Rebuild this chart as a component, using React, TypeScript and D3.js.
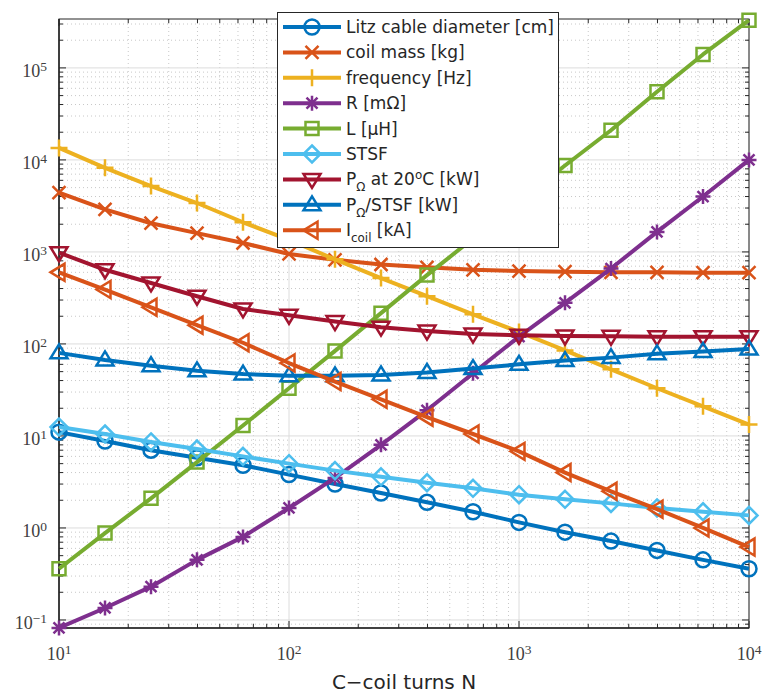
import { useEffect, useRef } from 'react'
import * as d3 from 'd3'

// C-coil turns N (x axis, log spaced)
const TURNS = [10, 15.85, 25.12, 39.81, 63.1, 100, 158.5, 251.2, 398.1, 631, 1000, 1585, 2512, 3981, 6310, 10000]

const LITZ_DIAM = [11, 8.8, 7.0, 5.8, 4.8, 3.8, 3.0, 2.4, 1.9, 1.5, 1.15, 0.9, 0.72, 0.57, 0.45, 0.36]
const COIL_MASS = [4400, 2900, 2050, 1600, 1250, 950, 820, 730, 680, 640, 620, 610, 600, 600, 595, 595]
const FREQUENCY = [13500, 8200, 5200, 3400, 2100, 1350, 830, 520, 330, 210, 135, 85, 53, 33, 21, 13.3]
const RESIST = [0.082, 0.135, 0.23, 0.45, 0.8, 1.65, 3.5, 8, 19, 48, 120, 280, 660, 1650, 4000, 10000]
const INDUCT = [0.36, 0.88, 2.1, 5.2, 13, 33, 84, 216, 560, 1400, 3500, 8700, 21000, 55000, 140000, 330000]
const STSF = [12.5, 10.5, 8.6, 7.2, 6.0, 5.0, 4.2, 3.6, 3.1, 2.7, 2.3, 2.05, 1.85, 1.65, 1.5, 1.37]
const P_20C = [980, 640, 460, 330, 240, 205, 175, 152, 138, 128, 124, 122, 121, 120, 120, 120]
const P_STSF = [80, 67, 58, 51, 47, 45, 45, 46, 49, 54, 60, 66, 71, 78, 83, 88]
const I_COIL = [600, 390, 250, 160, 103, 62, 39, 25, 16, 10.5, 6.8, 4.0, 2.5, 1.6, 1.0, 0.62]

const X_TICKS = [10, 100, 1000, 10000]
const Y_TICKS = [0.1, 1, 10, 100, 1000, 10000, 100000]

type Seg = { t: string; s?: 'sub' | 'sup' }

const SERIES: { values: number[]; color: string; marker: string; label: Seg[] }[] = [
  { values: LITZ_DIAM, color: '#0072BD', marker: 'o', label: [{ t: 'Litz cable diameter [cm]' }] },
  { values: COIL_MASS, color: '#D95319', marker: 'x', label: [{ t: 'coil mass [kg]' }] },
  { values: FREQUENCY, color: '#EDB120', marker: '+', label: [{ t: 'frequency [Hz]' }] },
  { values: RESIST, color: '#7E2F8E', marker: '*', label: [{ t: 'R [mΩ]' }] },
  { values: INDUCT, color: '#77AC30', marker: 's', label: [{ t: 'L [μH]' }] },
  { values: STSF, color: '#4DBEEE', marker: 'd', label: [{ t: 'STSF' }] },
  { values: P_20C, color: '#A2142F', marker: 'v', label: [{ t: 'P' }, { t: 'Ω', s: 'sub' }, { t: ' at 20' }, { t: 'o', s: 'sup' }, { t: 'C [kW]' }] },
  { values: P_STSF, color: '#0072BD', marker: '^', label: [{ t: 'P' }, { t: 'Ω', s: 'sub' }, { t: '/STSF [kW]' }] },
  { values: I_COIL, color: '#D95319', marker: '<', label: [{ t: 'I' }, { t: 'coil', s: 'sub' }, { t: ' [kA]' }] },
]

function markerPath(m: string) {
  const p = d3.path()
  switch (m) {
    case 'o':
      p.moveTo(7.5, 0); p.arc(0, 0, 7.5, 0, Math.PI * 2); break
    case 'x':
      p.moveTo(-6.5, -6.5); p.lineTo(6.5, 6.5); p.moveTo(-6.5, 6.5); p.lineTo(6.5, -6.5); break
    case '+':
      p.moveTo(-8.5, 0); p.lineTo(8.5, 0); p.moveTo(0, -8.5); p.lineTo(0, 8.5); break
    case '*':
      p.moveTo(-7.5, 0); p.lineTo(7.5, 0); p.moveTo(0, -7.5); p.lineTo(0, 7.5)
      p.moveTo(-5.5, -5.5); p.lineTo(5.5, 5.5); p.moveTo(-5.5, 5.5); p.lineTo(5.5, -5.5); break
    case 's':
      p.rect(-6.5, -6.5, 13, 13); break
    case 'd':
      p.moveTo(0, -8.5); p.lineTo(8.5, 0); p.lineTo(0, 8.5); p.lineTo(-8.5, 0); p.closePath(); break
    case 'v':
      p.moveTo(-8.5, -5.5); p.lineTo(8.5, -5.5); p.lineTo(0, 8.5); p.closePath(); break
    case '^':
      p.moveTo(-8.5, 5.5); p.lineTo(8.5, 5.5); p.lineTo(0, -8.5); p.closePath(); break
    case '<':
      p.moveTo(5.5, -8.5); p.lineTo(5.5, 8.5); p.lineTo(-8.5, 0); p.closePath(); break
  }
  return p.toString()
}

function addRich(sel: any, segs: Seg[], fs: number, supShift = 0.4, small = 0.7) {
  let shift = 0
  segs.forEach(seg => {
    const target = seg.s === 'sub' ? fs * 0.35 : seg.s === 'sup' ? -fs * supShift : 0
    const span = sel.append('tspan').attr('dy', target - shift).text(seg.t)
    if (seg.s) span.attr('font-size', fs * small)
    shift = target
  })
}

export default function App() {
  const svgRef = useRef<SVGSVGElement>(null)

  useEffect(() => {
    if (!svgRef.current) return
    const svg = d3.select(svgRef.current)
    svg.selectAll('*').remove()

    const L = 59, R = 749, T = 19, B = 628
    const x = d3.scaleLog().domain([10, 1e4]).range([L, R])
    const y = d3.scaleLog().domain([0.0818, 3.4e5]).range([B, T])

    const minorX: number[] = []
    X_TICKS.slice(0, -1).forEach(d => { for (let k = 2; k < 10; k++) minorX.push(d * k) })
    const minorY: number[] = []
    ;[0.01, ...Y_TICKS].forEach(d => {
      for (let k = 2; k < 10; k++) { const v = d * k; if (v > 0.0818 && v < 3.4e5) minorY.push(v) }
    })

    const grid = svg.append('g')
    // minor grid (dotted)
    minorX.forEach(v => grid.append('line').attr('x1', x(v)).attr('x2', x(v)).attr('y1', T).attr('y2', B)
      .attr('stroke', '#c8c8c8').attr('stroke-width', 1).attr('stroke-dasharray', '1,3'))
    minorY.forEach(v => grid.append('line').attr('y1', y(v)).attr('y2', y(v)).attr('x1', L).attr('x2', R)
      .attr('stroke', '#c8c8c8').attr('stroke-width', 1).attr('stroke-dasharray', '1,3'))
    // major grid
    X_TICKS.forEach(v => grid.append('line').attr('x1', x(v)).attr('x2', x(v)).attr('y1', T).attr('y2', B)
      .attr('stroke', '#dcdcdc').attr('stroke-width', 1))
    Y_TICKS.forEach(v => grid.append('line').attr('y1', y(v)).attr('y2', y(v)).attr('x1', L).attr('x2', R)
      .attr('stroke', '#dcdcdc').attr('stroke-width', 1))

    // axes box + ticks
    const ax = svg.append('g').attr('stroke', '#262626')
    ax.append('rect').attr('x', L).attr('y', T).attr('width', R - L).attr('height', B - T)
      .attr('fill', 'none').attr('stroke-width', 1)
    X_TICKS.forEach(v => {
      ax.append('line').attr('x1', x(v)).attr('x2', x(v)).attr('y1', B).attr('y2', B - 7)
      ax.append('line').attr('x1', x(v)).attr('x2', x(v)).attr('y1', T).attr('y2', T + 7)
    })
    minorX.forEach(v => {
      ax.append('line').attr('x1', x(v)).attr('x2', x(v)).attr('y1', B).attr('y2', B - 4)
      ax.append('line').attr('x1', x(v)).attr('x2', x(v)).attr('y1', T).attr('y2', T + 4)
    })
    Y_TICKS.forEach(v => {
      ax.append('line').attr('y1', y(v)).attr('y2', y(v)).attr('x1', L).attr('x2', L + 7)
      ax.append('line').attr('y1', y(v)).attr('y2', y(v)).attr('x1', R).attr('x2', R - 7)
    })
    minorY.forEach(v => {
      ax.append('line').attr('y1', y(v)).attr('y2', y(v)).attr('x1', L).attr('x2', L + 4)
      ax.append('line').attr('y1', y(v)).attr('y2', y(v)).attr('x1', R).attr('x2', R - 4)
    })
    ax.append('line').attr('x1', L).attr('x2', R).attr('y1', B).attr('y2', B).attr('stroke-width', 1.5)
    ax.append('line').attr('x1', L).attr('x2', L).attr('y1', T).attr('y2', B).attr('stroke-width', 1.5)

    // tick labels
    const tickFont = '"Liberation Serif", serif'
    X_TICKS.forEach(v => {
      const t = svg.append('text').attr('x', x(v)).attr('y', 660).attr('text-anchor', 'middle')
        .attr('font-family', tickFont).attr('font-size', 18).attr('fill', '#404040')
      addRich(t, [{ t: '10' }, { t: String(Math.round(Math.log10(v))), s: 'sup' }], 18, 0.32, 0.75)
    })
    Y_TICKS.forEach(v => {
      const t = svg.append('text').attr('x', 47).attr('y', y(v) + 9).attr('text-anchor', 'end')
        .attr('font-family', tickFont).attr('font-size', 18).attr('fill', '#404040')
      const e = Math.round(Math.log10(v))
      addRich(t, [{ t: '10' }, { t: e < 0 ? `−${-e}` : String(e), s: 'sup' }], 18, 0.32, 0.75)
    })

    svg.append('text').attr('x', 404).attr('y', 689).attr('text-anchor', 'middle')
      .attr('font-family', '"DejaVu Sans", sans-serif').attr('font-size', 20).attr('fill', '#262626')
      .text('C−coil turns N')

    // series
    const line = d3.line<number>().x((_, i) => x(TURNS[i])).y(d => y(d))
    SERIES.forEach(s => {
      const g = svg.append('g')
      g.append('path').attr('d', line(s.values)).attr('fill', 'none')
        .attr('stroke', s.color).attr('stroke-width', 4).attr('stroke-linejoin', 'round')
      g.selectAll('path.m').data(s.values).enter().append('path').attr('class', 'm')
        .attr('transform', (d, i) => `translate(${x(TURNS[i])},${y(d)})`)
        .attr('d', markerPath(s.marker)).attr('fill', 'none')
        .attr('stroke', s.color).attr('stroke-width', 2.5)
    })

    // legend
    const lg = svg.append('g')
    lg.append('rect').attr('x', 277.5).attr('y', 12.5).attr('width', 281).attr('height', 235)
      .attr('fill', '#fff').attr('stroke', '#262626').attr('stroke-width', 1)
    SERIES.forEach((s, i) => {
      const cy = 27 + i * 25.4
      lg.append('line').attr('x1', 283).attr('x2', 341).attr('y1', cy).attr('y2', cy)
        .attr('stroke', s.color).attr('stroke-width', 4)
      lg.append('path').attr('transform', `translate(312,${cy})`).attr('d', markerPath(s.marker))
        .attr('fill', 'none').attr('stroke', s.color).attr('stroke-width', 2.5)
      const t = lg.append('text').attr('x', 346).attr('y', cy + 6)
        .attr('font-family', '"DejaVu Sans", sans-serif').attr('font-size', 17).attr('fill', '#262626')
      addRich(t, s.label, 17)
    })
  }, [])

  return (
    <div style={{ position: 'absolute', left: 0, top: 0 }}>
      <svg ref={svgRef} width={768} height={695} style={{ display: 'block', background: '#fff' }} />
    </div>
  )
}
